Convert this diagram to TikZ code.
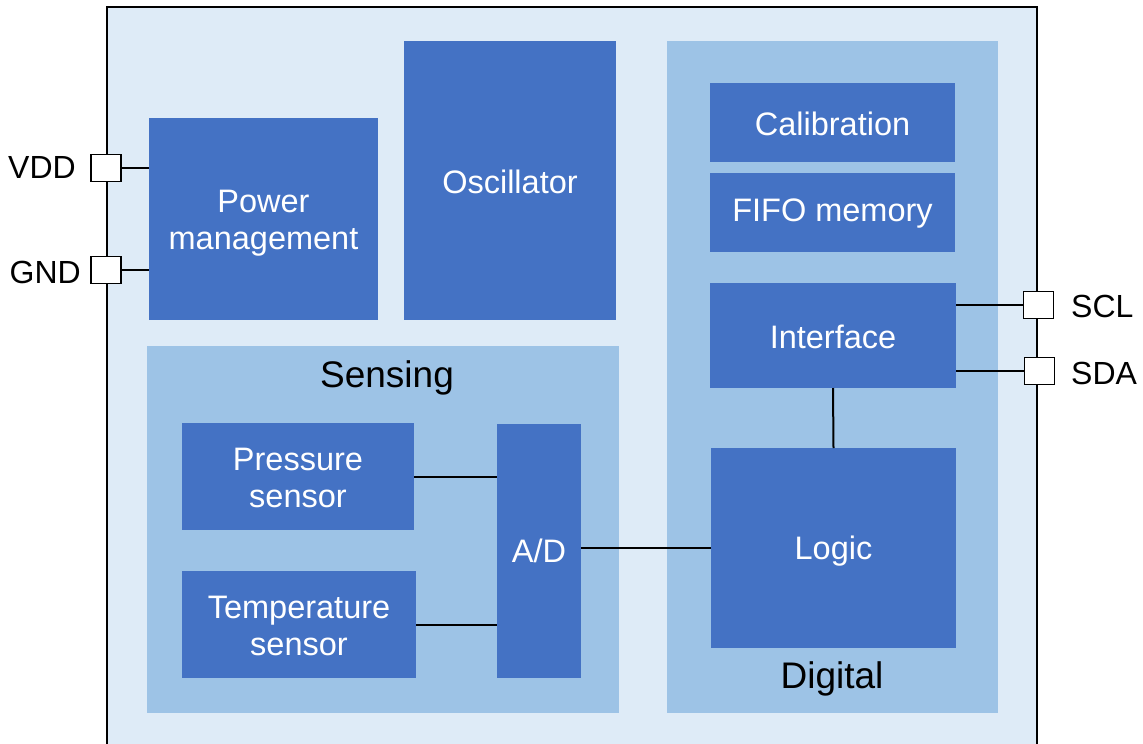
\documentclass[tikz,border=0pt]{standalone}
\usepackage{fontspec}
\setmainfont{Liberation Sans}
\definecolor{chipbg}{HTML}{DEEBF7}
\definecolor{grpbg}{HTML}{9DC3E6}
\definecolor{blkbg}{HTML}{4472C4}
\tikzset{
  blk/.style={fill=blkbg, draw=none, inner sep=0pt, outer sep=0pt},
  blktxt/.style={inner sep=0pt, text=white, align=center, font=\fontsize{32.5}{37}\selectfont},
  grp/.style={fill=grpbg, draw=none, inner sep=0pt, outer sep=0pt},
  pin/.style={fill=white, draw=black, line width=1.6pt, minimum width=30pt, minimum height=27pt, inner sep=0pt, outer sep=0pt},
  pinlbl/.style={font=\fontsize{32}{37}\selectfont, inner sep=0pt},
  grplbl/.style={font=\fontsize{37}{42}\selectfont, inner sep=0pt},
  wire/.style={draw=black, line width=2pt}
}
\begin{document}
\begin{tikzpicture}[x=1pt,y=-1pt]
\clip (0,0) rectangle (1143,744);
\fill[white] (0,0) rectangle (1143,744);
% chip body
\node[fill=chipbg, draw=black, line width=2pt, inner sep=0pt, outer sep=0pt,
      minimum width=930pt, minimum height=760pt, anchor=north west] (chip) at (107,7) {};
% groups
\node[grp, minimum width=331pt, minimum height=672pt, anchor=north west] (digital) at (667,41) {};
\node[grp, minimum width=472pt, minimum height=367pt, anchor=north west] (sensing) at (147,346) {};
\node[grplbl] (sensinglbl) at (387,378) {Sensing};
\node[grplbl] (digitallbl) at (832,679) {Digital};
% blocks
\node[blk, minimum width=229pt, minimum height=202pt] (pm) at (263.5,219) {};
\node[blk, minimum width=212pt, minimum height=279pt] (osc) at (510,180.5) {};
\node[blk, minimum width=245pt, minimum height=79pt] (cal) at (832.5,122.5) {};
\node[blk, minimum width=245pt, minimum height=79pt] (fifo) at (832.5,212.5) {};
\node[blk, minimum width=246pt, minimum height=105pt] (intf) at (833,335.5) {};
\node[blk, minimum width=245pt, minimum height=200pt] (logic) at (833.5,548) {};
\node[blk, minimum width=232pt, minimum height=107pt] (press) at (298,476.5) {};
\node[blk, minimum width=234pt, minimum height=107pt] (temp) at (299,624.5) {};
\node[blk, minimum width=84pt, minimum height=254pt] (ad) at (539,551) {};
% block texts
\node[blktxt, yshift=-4pt] (pmtxt) at (pm.center) {Power\\management};
\node[blktxt, yshift=-1pt] (osctxt) at (osc.center) {Oscillator};
\node[blktxt, yshift=-1.5pt] (caltxt) at (cal.center) {Calibration};
\node[blktxt, yshift=-1pt] (fifotxt) at (fifo.center) {FIFO memory};
\node[blktxt, yshift=-1pt] (intftxt) at (intf.center) {Interface};
\node[blktxt, yshift=-3pt] (logictxt) at (logic.center) {Logic};
\node[blktxt, yshift=-1.5pt] (presstxt) at (press.center) {Pressure\\sensor};
\node[blktxt, yshift=-1.5pt] (temptxt) at (temp.center) {Temperature\\sensor};
\node[blktxt] (adtxt) at (ad.center) {A/D};
% pins
\node[pin] (vdd) at (106,168) {};
\node[pin] (gnd) at (106,270) {};
\node[pin] (scl) at (1038.5,305) {};
\node[pin] (sda) at (1039.5,371) {};
\node[pinlbl, anchor=east] (vddlbl) at (76,167) {VDD};
\node[pinlbl, anchor=east] (gndlbl) at (81,272) {GND};
\node[pinlbl, anchor=west] (scllbl) at (1071,306) {SCL};
\node[pinlbl, anchor=west] (sdalbl) at (1071,373) {SDA};
% wires
\draw[wire] (vdd.east) -- (vdd.east -| pm.west);
\draw[wire] (gnd.east) -- (gnd.east -| pm.west);
\draw[wire] (scl.west) -- (scl.west -| intf.east);
\draw[wire] (sda.west) -- (sda.west -| intf.east);
\draw[wire] (intf.south) -- (logic.north);
\draw[wire] (press.east) -- (press.east -| ad.west);
\draw[wire] (temp.east) -- (temp.east -| ad.west);
\draw[wire] (logic.west) -- (logic.west -| ad.east);
\end{tikzpicture}
\end{document}
